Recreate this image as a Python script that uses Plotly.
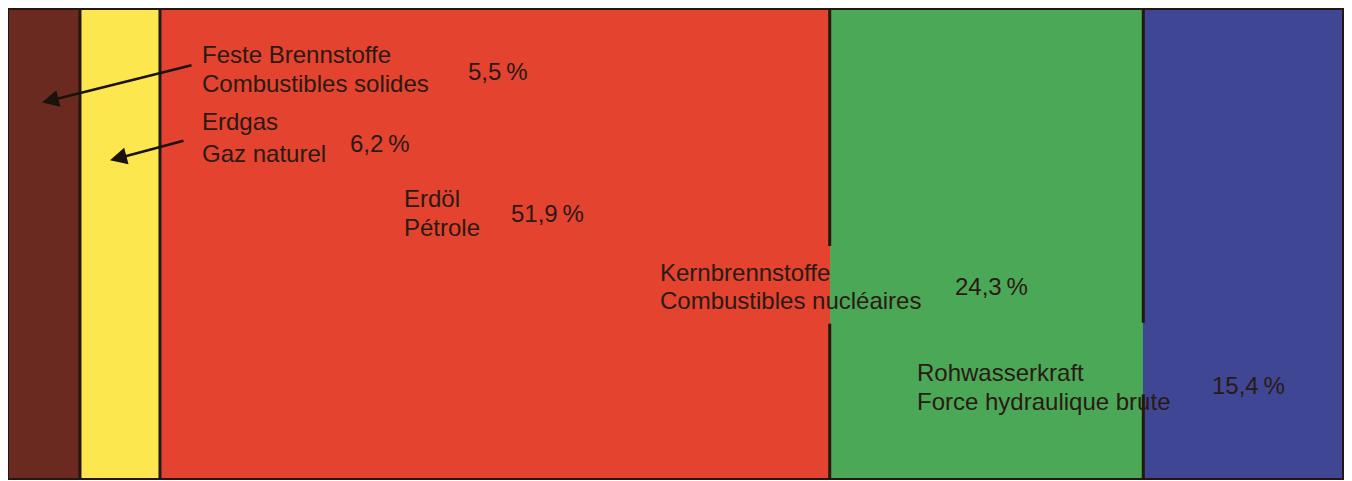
import plotly.graph_objects as go

# --- data ---
names_de = ["Feste Brennstoffe", "Erdgas", "Erdöl", "Kernbrennstoffe", "Rohwasserkraft"]
names_fr = ["Combustibles solides", "Gaz naturel", "Pétrole", "Combustibles nucléaires", "Force hydraulique brute"]
values = [5.5, 6.2, 51.9, 24.3, 15.4]
pct_labels = ["5,5\u2009%", "6,2\u2009%", "51,9\u2009%", "24,3\u2009%", "15,4\u2009%"]
colors = ["#6a2a1f", "#fde74f", "#e4432f", "#4aa857", "#3f4694"]

# page has an 8px body margin; figure sized to fit the window
OFF = 8
W, H = 1352 - OFF, 481 - OFF
PX0, PX1 = 9, 1342      # plot area in page pixels
PY0, PY1 = 8, 478
L, R, T, B = PX0 - OFF, W - (PX1 - OFF), PY0 - OFF, H - (PY1 - OFF)
total = sum(values)

def dx(px):
    return (px - PX0) / (PX1 - PX0) * total

def dy(py):
    return 1 - (py - PY0) / (PY1 - PY0)

# label placement (page pixels)
name_x = [200, 200, 402, 658, 915]
line1_y = [53, 120, 197, 272, 372]
line2_y = [82, 152, 226, 300, 401]
pct_x = [466, 348, 509, 953, 1210]
pct_y = [70, 142, 212, 286, 385]

# gaps in the divider lines after each segment (page pixels), where labels cross
divider_gaps = [None, None, (245, 323), (322, 394)]

fig = go.Figure()
for n, v, c in zip(names_de, values, colors):
    fig.add_trace(go.Bar(
        y=[0.5], x=[v], orientation="h", width=1, name=n,
        marker=dict(color=c, line=dict(width=0)),
        hoverinfo="skip", showlegend=False,
    ))

LINE = "#24170f"
shapes = []
cum = 0
for i, v in enumerate(values[:-1]):
    cum += v
    gap = divider_gaps[i]
    if gap is None:
        segs = [(0, 1)]
    else:
        segs = [(dy(gap[0]), 1), (0, dy(gap[1]))]
    for y0, y1 in segs:
        shapes.append(dict(type="line", xref="x", yref="y", x0=cum, x1=cum, y0=y0, y1=y1,
                           line=dict(color=LINE, width=3)))

font = dict(family="Liberation Sans, Arial, sans-serif", size=24, color="#2a1a14")
ann = []
for i in range(len(values)):
    ann.append(dict(x=dx(name_x[i]), y=dy(line1_y[i]), xref="x", yref="y", text=names_de[i],
                    showarrow=False, xanchor="left", yanchor="middle", font=font))
    ann.append(dict(x=dx(name_x[i]), y=dy(line2_y[i]), xref="x", yref="y", text=names_fr[i],
                    showarrow=False, xanchor="left", yanchor="middle", font=font))
    ann.append(dict(x=dx(pct_x[i]), y=dy(pct_y[i]), xref="x", yref="y", text=pct_labels[i],
                    showarrow=False, xanchor="left", yanchor="middle", font=font))

# arrows pointing to the two narrow segments
arrow_tail = [(193, 63), (185, 139)]
arrow_head = [(42, 101), (110, 159)]
for (tx, ty), (hx, hy) in zip(arrow_tail, arrow_head):
    ann.append(dict(x=dx(hx), y=dy(hy), ax=dx(tx), ay=dy(ty), xref="x", yref="y",
                    axref="x", ayref="y", text="", showarrow=True,
                    arrowhead=2, arrowsize=1.3, arrowwidth=2.6, arrowcolor="#1c120c"))

fig.update_layout(
    width=W, height=H, barmode="stack", bargap=0,
    margin=dict(l=L, r=R, t=T, b=B),
    paper_bgcolor="white", plot_bgcolor="white",
    annotations=ann, shapes=shapes,
    xaxis=dict(range=[0, total], showgrid=False, zeroline=False,
               showticklabels=False, ticks="", showline=True, mirror=True,
               linecolor=LINE, linewidth=2),
    yaxis=dict(range=[0, 1], showgrid=False, zeroline=False, showticklabels=False,
               ticks="", showline=True, mirror=True, linecolor=LINE, linewidth=2),
)

fig.write_html("out.html")
